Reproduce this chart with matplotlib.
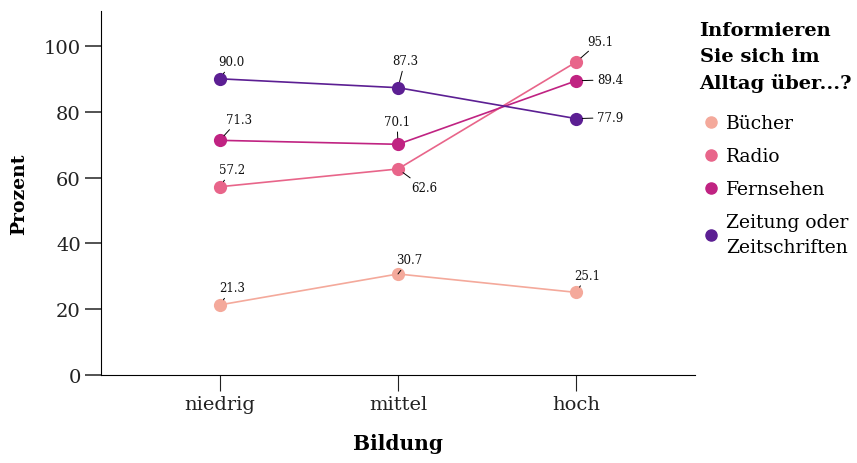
import numpy as np
import matplotlib
matplotlib.use("Agg")
import matplotlib.pyplot as plt
from matplotlib.lines import Line2D

plt.rcParams['font.family'] = ['DejaVu Serif']

# Daten
bildung = ["niedrig", "mittel", "hoch"]
medien = ["Bücher", "Radio", "Fernsehen", "Zeitung oder\nZeitschriften"]
buecher = [21.3, 30.7, 25.1]
radio = [57.2, 62.6, 95.1]
fernsehen = [71.3, 70.1, 89.4]
zeitung = [90.0, 87.3, 77.9]
werte = [buecher, radio, fernsehen, zeitung]

farben = ["#F4A99B", "#E8658A", "#C02382", "#5C1F93"]

# Label-Versatz in Pixeln (wie ggrepel)
versatz = [
    [(12, 17), (11, 14), (11, 17)],
    [(12, 17), (26, -19), (24, 21)],
    [(19, 21), (-1, 23), (34, 1)],
    [(12, 17), (7, 27), (34, 1)],
]

fig = plt.figure(figsize=(8.57, 4.64), dpi=100)
ax = fig.add_axes([101 / 857, 1 - 376 / 464, (695 - 101) / 857, (376 - 12) / 464])

x = np.arange(len(bildung))
for i in range(len(medien)):
    ax.plot(x, werte[i], color=farben[i], lw=1.2, marker='o', markersize=9.5,
            markeredgewidth=0, zorder=3)
    for j in range(len(bildung)):
        ax.annotate(f"{werte[i][j]:.1f}", xy=(x[j], werte[i][j]),
                    xytext=versatz[i][j], textcoords='offset pixels',
                    ha='center', va='center', fontsize=8.5, color='#111111',
                    arrowprops=dict(arrowstyle='-', color='black', lw=0.7,
                                    shrinkA=1, shrinkB=4.5), zorder=4)

ax.set_xlim(-0.667, 2.667)
ax.set_ylim(0, 110.6)
ax.set_xticks(x)
ax.set_xticklabels(bildung)
ax.set_yticks([0, 20, 40, 60, 80, 100])
ax.tick_params(axis='both', labelsize=14, length=11.5, pad=3, colors='#222222')
ax.tick_params(axis='y', color='#444444', width=1.3)
for s in ['top', 'right']:
    ax.spines[s].set_visible(False)
ax.set_xlabel("Bildung", fontsize=14.5, fontweight='bold', labelpad=14)
ax.set_ylabel("Prozent", fontsize=13.5, fontweight='bold', labelpad=11)

handles = [Line2D([], [], color=farben[i], marker='o', linestyle='None', markersize=8)
           for i in range(len(medien))]
leg = fig.legend(handles, medien, loc='upper left', bbox_to_anchor=(692 / 857, 1 - 15 / 464),
                 frameon=False, fontsize=13.5, title="Informieren\nSie sich im\nAlltag über...?",
                 title_fontproperties={'weight': 'bold', 'size': 14}, alignment='left',
                 handletextpad=0.2, handlelength=1.2, labelspacing=0.8, borderaxespad=0)
leg.get_title().set_linespacing(1.55)
for t in leg.get_texts():
    t.set_linespacing(1.45)
# etwas mehr Abstand zwischen Titel und Einträgen
leg._legend_box.sep = 0.8 * 13.5 + 5

fig.savefig("out.png", dpi=100)
